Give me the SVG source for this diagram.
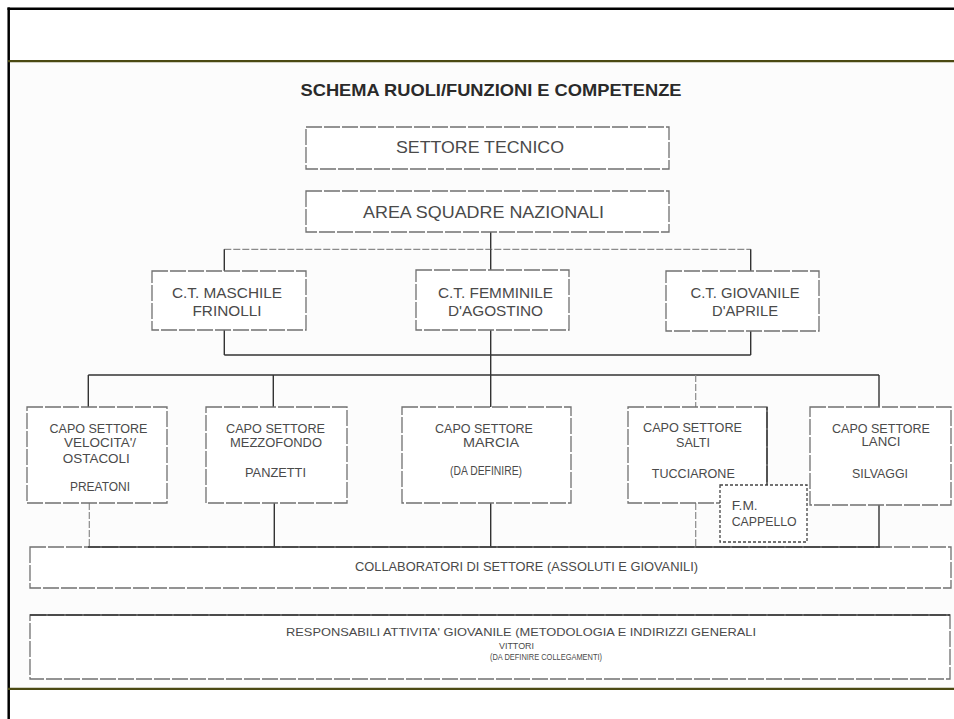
<svg xmlns="http://www.w3.org/2000/svg" width="954" height="719" viewBox="0 0 954 719">
<style>
text{font-family:"Liberation Sans",Arial,sans-serif;fill:#4a4a4a;text-anchor:middle}
.t{font-weight:bold;font-size:17px;fill:#2a2a2a}
.big{font-size:16.5px}
.mid{font-size:15.5px}
.sm{font-size:12.5px}
.xs{font-size:12px}
.box{fill:#fff;stroke:#707070;stroke-width:1.3;stroke-dasharray:16 2}
.dot{fill:#fff;stroke:#444;stroke-width:1.3;stroke-dasharray:3 2}
.ln{stroke:#333;stroke-width:1.4;fill:none}
.lt{stroke:#8a8a8a;stroke-width:1.2;fill:none;stroke-dasharray:7 2}
</style>
<rect width="954" height="719" fill="#fff"/>
<rect x="9" y="62" width="945" height="627" fill="#fcfcfc"/>
<g id="frame">
<line x1="7.5" y1="8.7" x2="954" y2="8.7" stroke="#000" stroke-width="2.5"/>
<line x1="8.7" y1="7.5" x2="8.7" y2="719" stroke="#000" stroke-width="2.5"/>
<line x1="8" y1="61.2" x2="954" y2="61.2" stroke="#4a4912" stroke-width="2.3"/>
<line x1="8" y1="688.8" x2="954" y2="688.8" stroke="#4a4912" stroke-width="2.3"/>
</g>
<text class="t" x="491" y="96" textLength="381" lengthAdjust="spacingAndGlyphs">SCHEMA RUOLI/FUNZIONI E COMPETENZE</text>
<g id="connectors">
<line class="ln" x1="490.7" y1="232" x2="490.7" y2="249.3"/>
<line class="lt" x1="224.3" y1="249.3" x2="750.7" y2="249.3"/>
<line class="ln" x1="224.3" y1="249.3" x2="224.3" y2="271"/>
<line class="ln" x1="490.7" y1="249.3" x2="490.7" y2="270"/>
<line class="ln" x1="750.7" y1="249.3" x2="750.7" y2="271"/>
<line class="ln" x1="224.3" y1="330" x2="224.3" y2="355"/>
<line class="ln" x1="750.7" y1="331" x2="750.7" y2="355"/>
<line class="ln" x1="224.3" y1="355" x2="750.7" y2="355"/>
<line class="ln" x1="490.7" y1="330" x2="490.7" y2="407"/>
<line class="ln" x1="88.3" y1="375" x2="879" y2="375" stroke="#555"/>
<line class="ln" x1="88.3" y1="375" x2="88.3" y2="407" stroke="#666"/>
<line class="ln" x1="273.3" y1="375" x2="273.3" y2="407" stroke="#666"/>
<line class="lt" x1="695.7" y1="375" x2="695.7" y2="407"/>
<line class="ln" x1="879" y1="375" x2="879" y2="407"/>
<line class="lt" x1="89.3" y1="503" x2="89.3" y2="547"/>
<line class="ln" x1="274.3" y1="503" x2="274.3" y2="547"/>
<line class="ln" x1="490.7" y1="503" x2="490.7" y2="547"/>
<line class="lt" x1="695.7" y1="503" x2="695.7" y2="547"/>
<line class="ln" x1="879" y1="505" x2="879" y2="547" stroke="#777"/>
</g>
<g id="settore-tecnico">
<rect class="box" x="306" y="127" width="363" height="42"/>
<text class="big" x="480" y="153" textLength="168" lengthAdjust="spacingAndGlyphs">SETTORE TECNICO</text>
</g>
<g id="area-squadre">
<rect class="box" x="306" y="191" width="363" height="41"/>
<text class="big" x="483.5" y="217.5" textLength="241" lengthAdjust="spacingAndGlyphs">AREA SQUADRE NAZIONALI</text>
</g>
<g id="ct-maschile">
<rect class="box" x="152" y="271" width="154" height="59"/>
<text class="mid" x="227" y="297.7" textLength="110" lengthAdjust="spacingAndGlyphs">C.T. MASCHILE</text>
<text class="mid" x="227" y="316" textLength="69" lengthAdjust="spacingAndGlyphs">FRINOLLI</text>
</g>
<g id="ct-femminile">
<rect class="box" x="416" y="270" width="153" height="60"/>
<text class="mid" x="495.5" y="297.7" textLength="115" lengthAdjust="spacingAndGlyphs">C.T. FEMMINILE</text>
<text class="mid" x="495.5" y="316" textLength="95" lengthAdjust="spacingAndGlyphs">D'AGOSTINO</text>
</g>
<g id="ct-giovanile">
<rect class="box" x="666" y="271" width="153" height="60"/>
<text class="mid" x="745" y="297.5" textLength="109" lengthAdjust="spacingAndGlyphs">C.T. GIOVANILE</text>
<text class="mid" x="745" y="316" textLength="66" lengthAdjust="spacingAndGlyphs">D'APRILE</text>
</g>
<g id="cs-velocita">
<rect class="box" x="27" y="407" width="140" height="96"/>
<text class="sm" x="98.5" y="432.7" textLength="98" lengthAdjust="spacingAndGlyphs">CAPO SETTORE</text>
<text class="sm" x="100" y="446.7" textLength="72" lengthAdjust="spacingAndGlyphs">VELOCITA'/</text>
<text class="sm" x="96.3" y="462.7" textLength="67" lengthAdjust="spacingAndGlyphs">OSTACOLI</text>
<text class="sm" x="100" y="491" textLength="60" lengthAdjust="spacingAndGlyphs">PREATONI</text>
</g>
<g id="cs-mezzofondo">
<rect class="box" x="206" y="407" width="141" height="96"/>
<text class="sm" x="275.5" y="432.7" textLength="99" lengthAdjust="spacingAndGlyphs">CAPO SETTORE</text>
<text class="sm" x="276" y="447" textLength="92" lengthAdjust="spacingAndGlyphs">MEZZOFONDO</text>
<text class="sm" x="275.5" y="477.3" textLength="61" lengthAdjust="spacingAndGlyphs">PANZETTI</text>
</g>
<g id="cs-marcia">
<rect class="box" x="402" y="407" width="169" height="96"/>
<text class="sm" x="484" y="432.7" textLength="98" lengthAdjust="spacingAndGlyphs">CAPO SETTORE</text>
<text class="sm" x="491" y="446.7" textLength="56" lengthAdjust="spacingAndGlyphs">MARCIA</text>
<text class="sm" x="486" y="475" textLength="72" lengthAdjust="spacingAndGlyphs">(DA DEFINIRE)</text>
</g>
<g id="cs-salti">
<rect class="box" x="628" y="407" width="139" height="96"/>
<line class="ln" x1="767" y1="407" x2="767" y2="486" stroke="#444"/>
<text class="sm" x="692.5" y="432.3" textLength="99" lengthAdjust="spacingAndGlyphs">CAPO SETTORE</text>
<text class="sm" x="693" y="446.7" textLength="34" lengthAdjust="spacingAndGlyphs">SALTI</text>
<text class="sm" x="693.3" y="478.3" textLength="83" lengthAdjust="spacingAndGlyphs">TUCCIARONE</text>
</g>
<g id="fm-cappello">
<rect class="dot" x="720" y="485" width="87" height="57"/>
<text class="sm" x="731.7" y="510" style="text-anchor:start" textLength="26" lengthAdjust="spacingAndGlyphs">F.M.</text>
<text class="sm" x="731.7" y="526" style="text-anchor:start" textLength="65" lengthAdjust="spacingAndGlyphs">CAPPELLO</text>
</g>
<g id="cs-lanci">
<rect class="box" x="810" y="407" width="141" height="98"/>
<text class="sm" x="881" y="432.7" textLength="98" lengthAdjust="spacingAndGlyphs">CAPO SETTORE</text>
<text class="sm" x="881" y="446.3" textLength="39" lengthAdjust="spacingAndGlyphs">LANCI</text>
<text class="sm" x="880" y="478.3" textLength="56" lengthAdjust="spacingAndGlyphs">SILVAGGI</text>
</g>
<g id="collaboratori">
<rect class="box" x="30" y="547" width="921" height="41"/>
<line class="ln" x1="88" y1="547" x2="880" y2="547" stroke="#444"/>
<text class="xs" x="526.5" y="571" textLength="343" lengthAdjust="spacingAndGlyphs">COLLABORATORI DI SETTORE (ASSOLUTI E GIOVANILI)</text>
</g>
<g id="responsabili">
<rect class="box" x="30" y="615" width="920" height="64"/>
<line class="ln" x1="30" y1="615" x2="950" y2="615" stroke="#444"/>
<text style="font-size:11.5px" x="521" y="635.5" textLength="470" lengthAdjust="spacingAndGlyphs">RESPONSABILI ATTIVITA' GIOVANILE (METODOLOGIA E INDIRIZZI GENERALI</text>
<text style="font-size:9.5px" x="516.5" y="648.5" textLength="35" lengthAdjust="spacingAndGlyphs">VITTORI</text>
<text style="font-size:8.5px" x="546" y="659.5" textLength="112" lengthAdjust="spacingAndGlyphs">(DA DEFINIRE COLLEGAMENTI)</text>
</g>
</svg>
